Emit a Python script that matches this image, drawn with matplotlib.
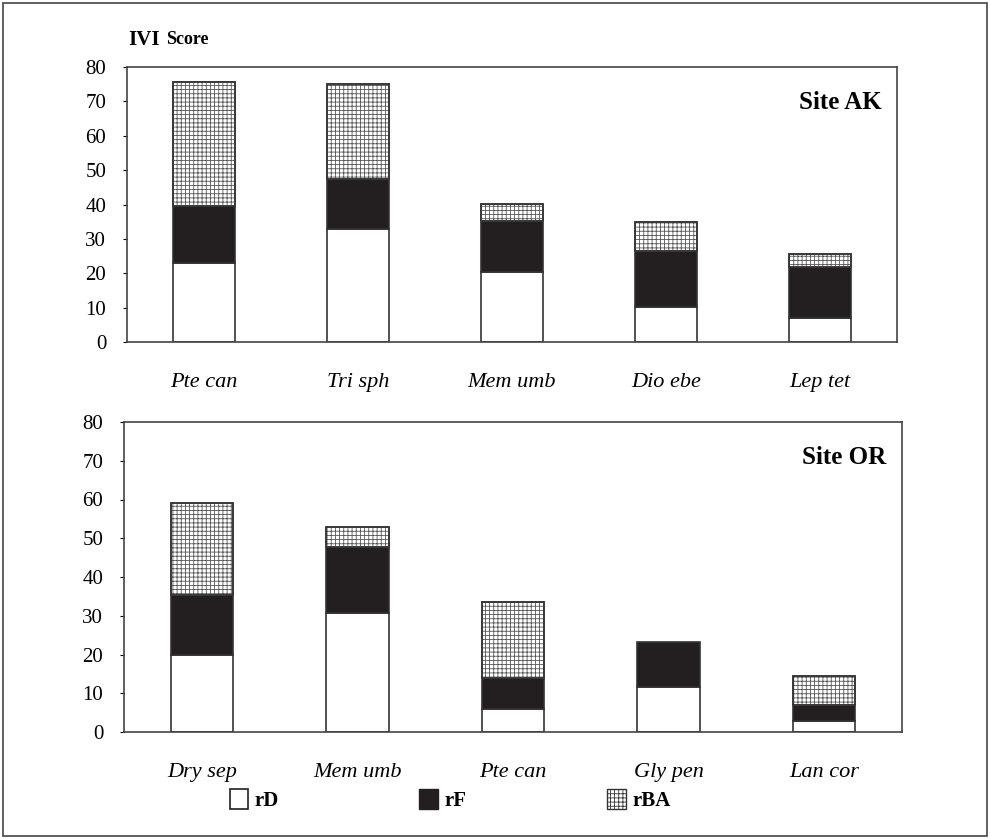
import matplotlib
matplotlib.use("Agg")
import matplotlib.pyplot as plt
from matplotlib.patches import Rectangle, Patch
import numpy as np

plt.rcParams['font.family'] = ['Liberation Serif', 'DejaVu Serif']
plt.rcParams['hatch.linewidth'] = 0.6

# ---------- data ----------
ak_species = ["Pte can", "Tri sph", "Mem umb", "Dio ebe", "Lep tet"]
ak_rD = [23, 33, 20.3, 10.2, 7]
ak_rF = [16.5, 14.5, 15, 16.3, 14.8]
ak_rBA = [36, 27.5, 4.8, 8.4, 3.9]

or_species = ["Dry sep", "Mem umb", "Pte can", "Gly pen", "Lan cor"]
or_rD = [20, 30.7, 6, 11.6, 2.8]
or_rF = [15.4, 17, 8, 11.7, 4.2]
or_rBA = [23.8, 5.3, 19.6, 0, 7.5]

yticks = [0, 10, 20, 30, 40, 50, 60, 70, 80]

W, H = 990, 839
fig = plt.figure(figsize=(W / 100, H / 100), dpi=100)
fig.patches.append(Rectangle((3 / W, 3 / H), 984 / W, 833 / H, transform=fig.transFigure,
                             fill=False, edgecolor="#444444", linewidth=1.2))

BLACK = "#231f20"
EDGE = "#333333"


def panel(rect, names, rD, rF, rBA, site, site_y, pad):
    ax = fig.add_axes(rect)
    x = np.arange(len(names))
    w = 0.4
    rD = np.array(rD)
    rF = np.array(rF)
    rBA = np.array(rBA)
    ax.bar(x, rD, w, color="white", edgecolor=EDGE, linewidth=1.2)
    ax.bar(x, rF, w, bottom=rD, color=BLACK, edgecolor=EDGE, linewidth=1.2)
    top = rBA > 0
    ax.bar(x[top], rBA[top], w, bottom=(rD + rF)[top], color="white",
           edgecolor="#555555", hatch="++++", linewidth=1.2)
    # outline redo for hatched bars
    ax.bar(x[top], rBA[top], w, bottom=(rD + rF)[top], fill=False,
           edgecolor=EDGE, linewidth=1.2)
    ax.set_xlim(-0.5, len(names) - 0.5)
    ax.set_ylim(0, 80)
    ax.set_yticks(yticks)
    ax.set_yticklabels([str(t) for t in yticks], fontsize=15)
    ax.set_xticks(x)
    ax.set_xticklabels(names, fontsize=16, style="italic")
    ax.tick_params(axis="x", length=0, pad=pad)
    ax.tick_params(axis="y", length=3, pad=12)
    for s in ax.spines.values():
        s.set_linewidth(1.2)
        s.set_color("#444444")
    ax.text(0.98, site_y, site, transform=ax.transAxes, ha="right", va="center",
            fontsize=18, fontweight="bold")
    return ax


panel([127 / W, (H - 342) / H, 770 / W, 275 / H], ak_species, ak_rD, ak_rF, ak_rBA,
      "Site AK", 0.87, 22)
panel([124 / W, (H - 732) / H, 778 / W, 310 / H], or_species, or_rD, or_rF, or_rBA,
      "Site OR", 0.885, 22)

fig.text(128 / W, 1 - 40 / H, "IVI", fontsize=15, fontweight="bold", va="center")
fig.text(166 / W, 1 - 40 / H, "Score", fontsize=13, fontweight="bold", va="center")

handles = [Patch(facecolor="white", edgecolor=BLACK, linewidth=1.2),
           Patch(facecolor=BLACK, edgecolor=BLACK),
           Patch(facecolor="white", edgecolor="#333333", hatch="++++")]
fig.legend(handles, ["rD", "rF", "rBA"], loc="center", bbox_to_anchor=(450 / W, 1 - 800 / H),
           ncol=3, frameon=False, handlelength=0.9, handleheight=1.1, handletextpad=0.3,
           columnspacing=6.75, prop={"weight": "bold", "size": 15})

fig.savefig("out.png", dpi=100)
